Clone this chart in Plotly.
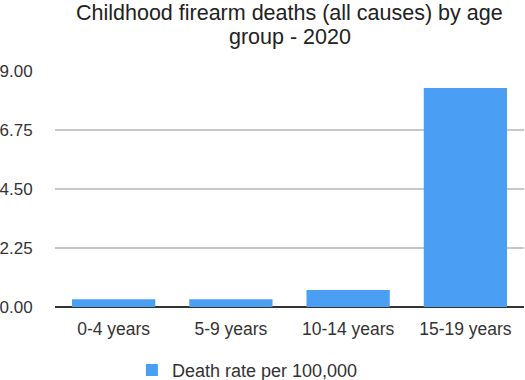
import plotly.graph_objects as go

categories = ["0-4 years", "5-9 years", "10-14 years", "15-19 years"]
death_rate = [0.3, 0.3, 0.65, 8.35]
tick_vals = [0, 2.25, 4.5, 6.75, 9]
series_name = "Death rate per 100,000"
title_lines = ["Childhood firearm deaths (all causes) by age", "group - 2020"]

fig = go.Figure()
fig.add_trace(go.Bar(x=categories, y=death_rate, name=series_name,
                     marker=dict(color="#4a9ff5", line=dict(width=0))))

for line, shift in zip(title_lines, [58, 34]):
    fig.add_annotation(text=line, xref="paper", yref="paper", x=0.5, y=1,
                       xanchor="center", yanchor="middle", yshift=shift, showarrow=False,
                       font=dict(size=21.5, color="#222"))

fig.update_layout(
    width=525, height=380,
    margin=dict(l=55, r=1, t=71, b=73, autoexpand=False),
    paper_bgcolor="white", plot_bgcolor="white",
    font=dict(family="Liberation Sans, Arial, sans-serif", size=17.5, color="#333"),
    bargap=0.29,
    showlegend=True,
    legend=dict(orientation="h", x=0.164, xanchor="left", y=-0.19, yanchor="top",
                font=dict(size=18, color="#333")),
    xaxis=dict(showgrid=False, showline=False, ticks="outside", ticklen=6,
               tickcolor="rgba(0,0,0,0)", tickfont=dict(size=17.5), automargin=False),
    yaxis=dict(range=[0, 9], tickvals=tick_vals, tickformat=".2f",
               showgrid=True, gridcolor="#c8c8c8", gridwidth=1.5,
               zeroline=True, zerolinecolor="#333", zerolinewidth=2,
               ticks="outside", ticklen=18, tickcolor="rgba(0,0,0,0)",
               tickfont=dict(size=17), automargin=False),
)

fig.write_html("out.html", config={"displayModeBar": False},
               post_script="document.body.style.margin='0';")
